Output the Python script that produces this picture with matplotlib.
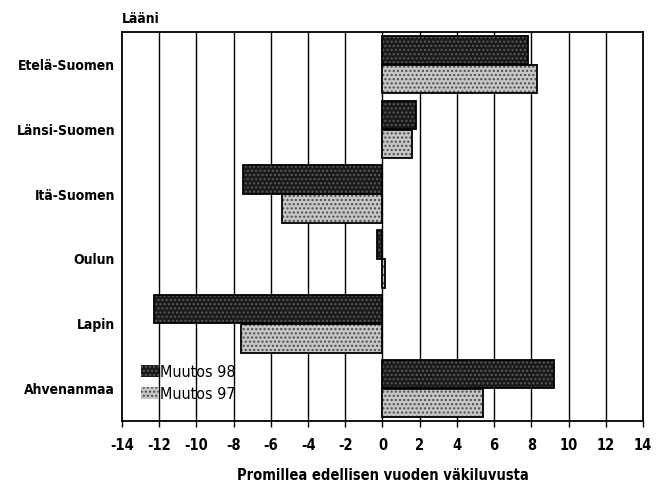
import matplotlib
matplotlib.use('Agg')
import matplotlib.pyplot as plt
import numpy as np

# Läänit ylhäältä alas
laanit = ['Etelä-Suomen', 'Länsi-Suomen', 'Itä-Suomen', 'Oulun', 'Lapin', 'Ahvenanmaa']
muutos_98 = [7.8, 1.8, -7.5, -0.3, -12.3, 9.2]
muutos_97 = [8.3, 1.6, -5.4, 0.15, -7.6, 5.4]
x_ticks = list(range(-14, 15, 2))

plt.rcParams['font.family'] = ['DejaVu Sans']
plt.rcParams['font.stretch'] = 'condensed'

fig = plt.figure(figsize=(6.67, 4.87), dpi=100)
ax = fig.add_axes([0.1829, 0.1355, 0.7811, 0.7985])

y = np.arange(len(laanit))
h = 0.44
y98 = y - h / 2 - 0.005
y97 = y + h / 2 + 0.005

# fill + stipple (hatch takes edge colour), then black outline on top
ax.barh(y98, muutos_98, height=h, color='#1a1a1a', edgecolor='#5a5a5a',
        linewidth=0, hatch='....', label='Muutos 98', zorder=3)
ax.barh(y97, muutos_97, height=h, color='#c6c6c6', edgecolor='#4a4a4a',
        linewidth=0, hatch='....', label='Muutos 97', zorder=3)
ax.barh(y98, muutos_98, height=h, fill=False, edgecolor='black', linewidth=1.3, zorder=4)
ax.barh(y97, muutos_97, height=h, fill=False, edgecolor='black', linewidth=1.3, zorder=4)

ax.set_xlim(-14, 14)
ax.set_ylim(len(laanit) - 0.5, -0.5)
ax.set_xticks(x_ticks)
ax.set_xticklabels([str(t) for t in x_ticks], fontsize=10.5, fontweight='bold')
ax.set_yticks(y)
ax.set_yticklabels(laanit, fontsize=10, fontweight='bold')
ax.tick_params(axis='y', length=0, pad=5)
ax.tick_params(axis='x', direction='out', length=4, width=1, pad=8)

for t in x_ticks[1:-1]:
    ax.axvline(t, color='black', linewidth=1.0, zorder=1)
for s in ax.spines.values():
    s.set_linewidth(1.3)

ax.set_xlabel('Promillea edellisen vuoden väkiluvusta', fontsize=10.5,
              fontweight='bold', labelpad=11)
fig.text(0.1829, 0.962, 'Lääni', fontsize=10, fontweight='bold', ha='left', va='center')

leg = ax.legend(loc='lower left', bbox_to_anchor=(0.018, 0.025), frameon=False,
                fontsize=11.5, handlelength=1.1, handleheight=0.8,
                handletextpad=0.1, labelspacing=0.45, borderpad=0.1)

fig.savefig('out.png', dpi=100)
